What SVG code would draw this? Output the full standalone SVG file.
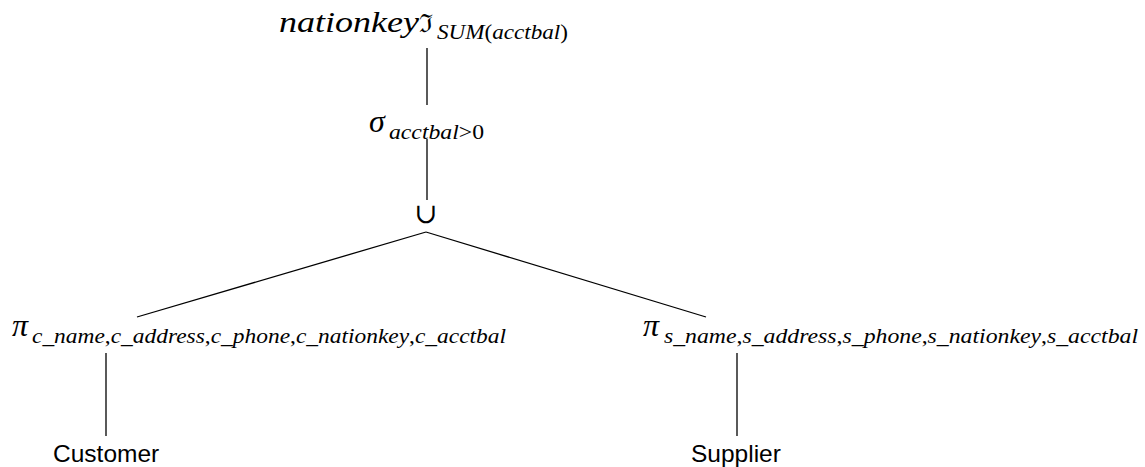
<svg xmlns="http://www.w3.org/2000/svg" width="1145" height="467" viewBox="0 0 1145 467">
<style>
.m{font-family:"Liberation Serif","DejaVu Serif",serif;font-style:italic;fill:#000}
.up{font-style:normal}
.sym{font-family:"DejaVu Serif","Liberation Serif",serif;fill:#000}
.rel{font-family:"Liberation Sans",Arial,sans-serif;font-size:24.5px;fill:#000}
.c{stroke:#000;stroke-width:1.3;fill:none}
</style>
<rect width="1145" height="467" fill="#fff"/>
<g id="connectors">
<line class="c" x1="427" y1="48" x2="427" y2="105"/>
<line class="c" x1="427" y1="139" x2="427" y2="200"/>
<line class="c" x1="426" y1="232" x2="137" y2="317"/>
<line class="c" x1="426" y1="232" x2="706" y2="317"/>
<line class="c" x1="106" y1="353" x2="106" y2="436"/>
<line class="c" x1="737" y1="353" x2="737" y2="436"/>
</g>
<g id="aggregate">
<text class="m" x="279" y="32" font-size="30" textLength="140" lengthAdjust="spacingAndGlyphs">nationkey</text>
<text class="sym" x="419" y="32" font-size="25">ℑ</text>
<text class="m" x="437" y="39" font-size="20" textLength="131" lengthAdjust="spacingAndGlyphs">SUM<tspan class="up">(</tspan>acctbal<tspan class="up">)</tspan></text>
</g>
<g id="selection">
<text class="m" x="369" y="132" font-size="32">σ</text>
<text class="m" x="389" y="139" font-size="21" textLength="95" lengthAdjust="spacingAndGlyphs">acctbal<tspan class="up">&gt;0</tspan></text>
</g>
<g id="union">
<text class="sym" x="426" y="223" font-size="28" text-anchor="middle">∪</text>
</g>
<g id="projCustomer">
<text class="m" x="12" y="336" font-size="32">π</text>
<text class="m" x="32" y="343" font-size="21" textLength="474" lengthAdjust="spacingAndGlyphs">c_name<tspan class="up">,</tspan>c_address<tspan class="up">,</tspan>c_phone<tspan class="up">,</tspan>c_nationkey<tspan class="up">,</tspan>c_acctbal</text>
</g>
<g id="projSupplier">
<text class="m" x="643" y="336" font-size="32">π</text>
<text class="m" x="664" y="343" font-size="21" textLength="474" lengthAdjust="spacingAndGlyphs">s_name<tspan class="up">,</tspan>s_address<tspan class="up">,</tspan>s_phone<tspan class="up">,</tspan>s_nationkey<tspan class="up">,</tspan>s_acctbal</text>
</g>
<g id="customer">
<text class="rel" x="53" y="462">Customer</text>
</g>
<g id="supplier">
<text class="rel" x="691" y="462">Supplier</text>
</g>
</svg>
